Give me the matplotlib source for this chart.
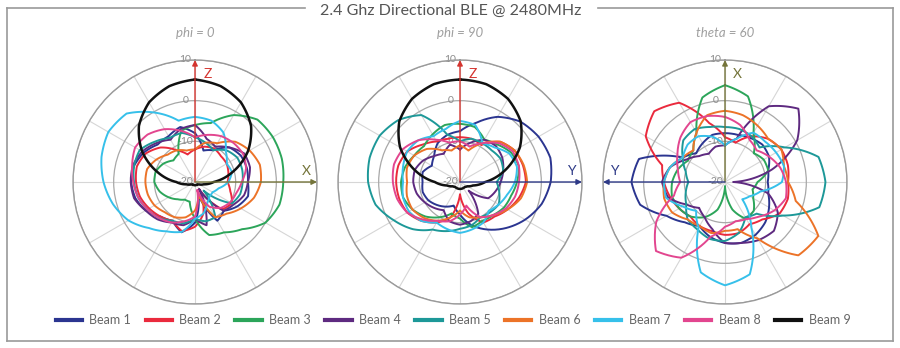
import numpy as np
import matplotlib
matplotlib.use("Agg")
import matplotlib.pyplot as plt
from matplotlib.lines import Line2D

plt.rcParams['font.family'] = ['Lato', 'DejaVu Sans']

# ---------------- data ----------------
title = "2.4 Ghz Directional BLE @ 2480MHz"
subtitles = ["phi = 0", "phi = 90", "theta = 60"]
beam_names = ["Beam 1", "Beam 2", "Beam 3", "Beam 4", "Beam 5",
              "Beam 6", "Beam 7", "Beam 8", "Beam 9"]
beam_colors = ["#2b3590", "#ea2a3d", "#2ca55a", "#5e2a80", "#1d9898",
               "#ec7328", "#36c0ea", "#e2468f", "#111111"]
r_ticks = [10, 0, -10, -20]
r_tick_labels = ["10", "0", "-10", "-20"]
# angles (deg), measured clockwise from the vertical axis
angles_deg = np.arange(0, 360, 15)

# ---- cut phi = 0 (dB) ----
phi0_b1 = [-8, -12, -11, -8, -7, -6.8, -7, -6.5, -8, -10, -9, -17, -10, -7.2, -9, -8, -6, -4.8, -4.3, -4.5, -5.5, -7, -7, -6]
phi0_b2 = [-12, -11, -10.5, -11, -11, -11.5, -12, -11, -9.5, -10.5, -18, -12, -9, -7.5, -9, -8, -7, -6, -5.5, -5.2, -6, -8, -11, -13]
phi0_b3 = [-6, -5, -1, 1.7, 2.1, 2.1, 1.7, 1.5, 0, -3.6, -5.7, -6.5, -11, -15, -15, -14, -12.5, -11, -10, -10, -11, -12.5, -12, -7]
phi0_b4 = [-6, -9, -10, -8, -6, -6, -7, -7.5, -9, -10, -18, -9, -11, -9, -8.5, -7, -6, -4.5, -4.2, -4.2, -5, -6.5, -8, -6.5]
phi0_b5 = [-9, -10, -11, -9, -8, -8, -8.3, -8.5, -9.5, -17, -10, -10, -11, -9.5, -9, -7.5, -6.5, -5.5, -5, -4.5, -4.3, -6, -7.5, -7.5]
phi0_b6 = [-12, -10, -9, -6, -4.5, -3.5, -3.8, -5, -7, -9, -10, -17, -13, -11, -10, -9.5, -8.5, -8, -7.8, -7.8, -9, -10.5, -11, -12]
phi0_b7 = [-4, -4.4, -6, -9.3, -11, -10.6, -11.8, -14, -15, -15, -14, -12, -11, -7.3, -6, -4, -1.1, 0.9, 2.5, 3.8, 4.6, 3.8, -0.3, -4.4]
phi0_b8 = [-9, -8, -7, -6.5, -6.3, -7, -8.5, -9.5, -10, -11, -13, -18, -11.5, -10, -8.5, -7.5, -6.5, -5.5, -4.8, -4, -3, -3.5, -5, -7]
phi0_b9 = [5.2, 4.4, 2.6, -0.5, -5.0, -10.4, -15.4, -17.8, -18.8, -19.2, -19.2, -19.2, -19.2, -19.2, -19.2, -19.2, -18.8, -17.8, -15.4, -10.4, -5.0, -0.5, 2.6, 4.4]

# ---- cut phi = 90 (dB) ----
phi90_b1 = [-7.5, -5, -1.5, 1.0, 2.3, 3.0, 2.3, 0.8, -1.5, -4, -6.5, -9, -12, -14, -13, -12, -11, -10.5, -10.8, -10.5, -12, -11, -9, -8]
phi90_b2 = [-9, -9, -9.5, -6, -4.5, -4, -3.8, -5, -6.5, -8, -8.5, -12, -17, -11, -8.5, -6.5, -5, -4.5, -4.3, -4.3, -5, -7, -8.5, -9]
phi90_b3 = [-5.7, -6, -8, -7, -5.5, -5, -6, -7, -7.5, -8.5, -9, -8.5, -11, -12, -10, -8, -6.5, -5.5, -5.5, -6, -7, -7.5, -6.5, -5.5]
phi90_b4 = [-12, -10, -8, -7.5, -8, -9, -10, -11, -12, -17, -11, -10, -9.5, -10, -12, -11, -10, -9, -8.5, -8.5, -9.5, -11, -12, -10.5]
phi90_b5 = [-10, -9, -9, -9, -8.5, -9, -11, -10, -9, -9.5, -10, -9, -8.5, -7.5, -6.5, -3.6, -1.2, 1.5, 2.6, 3.0, 2.8, 1.5, -1, -8]
phi90_b6 = [-11, -12, -9, -6, -4.5, -3.8, -3.5, -4.5, -6.5, -8.5, -10, -11, -13, -11, -9, -7.5, -6.5, -6.5, -7, -6.5, -7, -8.5, -11, -12]
phi90_b7 = [-5, -5.5, -9, -8, -6, -5.5, -6.5, -8, -9, -10, -8.5, -8, -7.5, -8, -8.5, -6.5, -5.5, -5.5, -6, -5.5, -5, -5.5, -7, -6.5]
phi90_b8 = [-10, -11, -9, -6.5, -5, -5, -5.5, -6, -7, -8.5, -10, -14, -12, -10, -9, -7, -5, -4, -3.5, -3.2, -3.8, -5.5, -8, -10]
phi90_b9 = [5.2, 4.9, 3.6, 1.1, -3.0, -8.4, -13.8, -16.7, -17.9, -18.3, -18.3, -18.3, -18.3, -18.3, -18.3, -18.3, -17.9, -16.7, -13.8, -8.4, -3.0, 1.1, 3.6, 4.9]

# ---- cut theta = 60 (dB) ----
th60_b1 = [-8, -8, -7.5, -7, -7.5, -9, -9.5, -9, -7.5, -6, -5, -4.5, -5, -6, -7.5, -6, -3.4, 1.6, 3, 1.9, -8, -10, -9, -8]
th60_b2 = [-9, -10, -7, -5, -4, -4, -4.5, -4, -4.5, -7, -8, -7, -7, -7.5, -7.5, -8, -7, -6, -5, -4, 2.5, 4.6, 2.5, -5]
th60_b3 = [3.8, 1.8, -6, -10, -9, -9, -12, -13, -12, -10, -9.5, -13, -19, -13, -10, -8, -7, -6.5, -7, -8, -9.5, -9, -6, 1.5]
th60_b4 = [-11, -9, 1.5, 5.5, 0.5, -8, -18, -9, -5, -3, -3.5, -4.5, -5, -8, -10, -11, -9, -5.5, -4.5, -6, -9, -11, -12, -11]
th60_b5 = [-6.5, -6.5, -7, -8, -3, 3.8, 4.7, 4.0, -3.5, -9, -10, -7, -5.5, -5.5, -6.5, -7, -9, -10, -11, -10, -8, -5.5, -5, -6]
th60_b6 = [-2.5, -3, -4, -5, -4, -5, -4.5, -2, 6.5, 5.5, -4, -8, -8, -7, -7.5, -7, -5, -4.5, -5, -6, -8, -9, -6, -3]
th60_b7 = [-11, -9, -6, -6, -5.5, -5, -6, -11, -13, -14, -7, 3.5, 5.4, 3.0, -7, -10, -8, -5, -5, -6, -8, -7, -7, -8.5]
th60_b8 = [-4, -5.5, -8, -9, -7.5, -6, -5, -4.5, -6, -8, -9.5, -10, -9, -6, 1.5, 4.0, -0.5, -7, -9, -8, -6.5, -4.5, -3, -3.2]

cuts = [
    [phi0_b1, phi0_b2, phi0_b3, phi0_b4, phi0_b5, phi0_b6, phi0_b7, phi0_b8, phi0_b9],
    [phi90_b1, phi90_b2, phi90_b3, phi90_b4, phi90_b5, phi90_b6, phi90_b7, phi90_b8, phi90_b9],
    [th60_b1, th60_b2, th60_b3, th60_b4, th60_b5, th60_b6, th60_b7, th60_b8, None],
]

# axis arrows per panel: (angle, label, colour)
axis_arrows = [
    [(0, "Z", "#d4342f"), (90, "X", "#74743a")],
    [(0, "Z", "#d4342f"), (90, "Y", "#2e3a87")],
    [(0, "X", "#74743a"), (270, "Y", "#2e3a87")],
]

# ---------------- figure ----------------
W, H = 900, 348
fig = plt.figure(figsize=(W / 100, H / 100), dpi=100)

# frame with title gap
frame_col = "#9a9a9a"
for xs, ys in [([7, 7], [8, 341]), ([893, 893], [8, 341]), ([7, 893], [341, 341]),
               ([7, 305], [8, 8]), ([598, 893], [8, 8])]:
    fig.add_artist(Line2D([x / W for x in xs], [1 - y / H for y in ys], color=frame_col, lw=1.2))
fig.text(451 / W, 1 - 11 / H, title, ha="center", va="center", fontsize=11.5, color="#555555")

centers_x = [195, 460, 725]
cy, R = 182, 122

for k, cx in enumerate(centers_x):
    ax = fig.add_axes([(cx - R) / W, (H - cy - R) / H, 2 * R / W, 2 * R / H], projection="polar")
    ax.set_theta_zero_location("N")
    ax.set_theta_direction(-1)
    ax.set_ylim(-20, 10)
    ax.set_rgrids([-10, 0, 10], labels=[])
    ax.set_thetagrids(np.arange(0, 360, 30), labels=[])
    ax.grid(True, color="#d6d6d6", lw=0.8)
    ax.yaxis.grid(True, color="#a8a8a8", lw=0.9)
    ax.spines["polar"].set_color("#9a9a9a")
    ax.spines["polar"].set_linewidth(1.0)
    ax.tick_params(length=0)

    # close each curve at 360 deg so the last segment runs forward
    th = np.deg2rad(np.append(angles_deg, 360))
    for b, vals in enumerate(cuts[k]):
        if vals is None:
            continue
        rv = np.append(vals, vals[0])
        lw = 1.8 if b == 8 else 1.4
        ln, = ax.plot(th, rv, color=beam_colors[b], lw=lw, zorder=3 if b < 8 else 4,
                      solid_joinstyle="round")
        # let the polar transform draw each segment along (theta, r)
        ln.get_path()._interpolation_steps = 24

    # axis arrows
    for ang, lab, col in axis_arrows[k]:
        t = np.deg2rad(ang)
        ax.annotate("", xy=(t, 10), xytext=(t, -20),
                    arrowprops=dict(arrowstyle="-|>", color=col, lw=1.0,
                                    mutation_scale=8, shrinkA=0, shrinkB=0),
                    zorder=5, annotation_clip=False)
        if ang == 0:
            off = (9, -10)
        elif ang == 90:
            off = (-8, 8)
        else:
            off = (8, 8)
        ax.annotate(lab, xy=(t, 10), xytext=off, textcoords="offset points",
                    color=col, fontsize=10, ha="center", va="center", annotation_clip=False)

    # radial labels
    for rv_, lab in zip(r_ticks, r_tick_labels):
        ax.annotate(lab, xy=(0, rv_), xytext=(-7, 0), textcoords="offset points",
                    color="#8a8a8a", fontsize=7.5, ha="center", va="center",
                    zorder=2, annotation_clip=False)

    fig.text(cx / W, 1 - 33 / H, subtitles[k], ha="center", va="center",
             fontsize=9.5, style="italic", color="#a0a0a0")

handles = [Line2D([], [], color=c, lw=3) for c in beam_colors]
fig.legend(handles, beam_names, loc="center", bbox_to_anchor=(453 / W, 1 - 320 / H),
           ncol=9, frameon=False, fontsize=9, handlelength=2.1, columnspacing=1.15,
           handletextpad=0.6, labelcolor="#666666")

fig.savefig("out.png", dpi=100)
